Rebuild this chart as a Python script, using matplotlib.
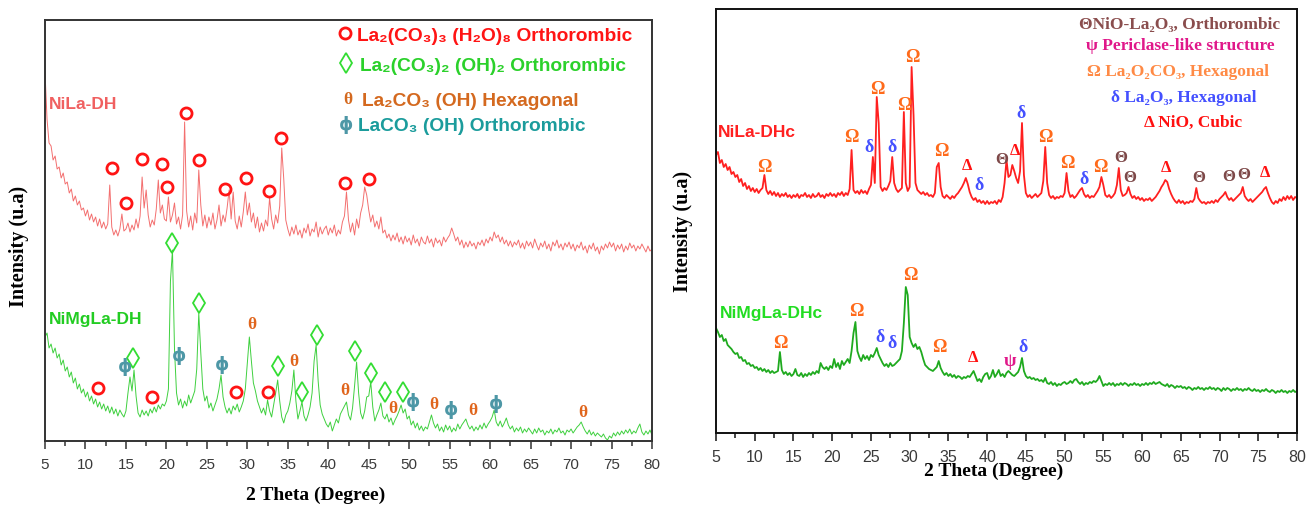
import numpy as np
import matplotlib.pyplot as plt
from matplotlib.ticker import MultipleLocator

SANS = ["Liberation Sans", "DejaVu Sans"]
SERIF = ["Liberation Serif", "DejaVu Serif"]

# diffractometer scan: 5-80 deg 2theta, 0.25 deg step
SCAN_START, SCAN_END, SCAN_STEP = 5.0, 80.0, 0.25

# ---- dried hydroxides (a.u., offset already applied) ----
NILA_DH = [
    369, 322, 298, 295, 281, 285, 272, 274, 263, 268, 257, 259, 248, 252, 240, 245, 236, 240, 231, 233,
    225, 231, 221, 227, 219, 224, 215, 222, 213, 219, 212, 217, 256, 214, 206, 211, 205, 212, 227, 210,
    212, 218, 209, 216, 211, 222, 213, 225, 264, 233, 251, 226, 214, 221, 216, 232, 261, 228, 236, 222,
    220, 244, 219, 226, 238, 217, 224, 212, 226, 319, 230, 214, 225, 211, 228, 218, 271, 236, 215, 226,
    213, 224, 216, 228, 212, 221, 236, 215, 226, 219, 233, 251, 222, 249, 220, 212, 225, 214, 229, 249,
    226, 238, 219, 228, 213, 224, 209, 218, 210, 221, 215, 243, 222, 212, 226, 218, 235, 293, 262, 221,
    212, 205, 214, 207, 216, 206, 211, 203, 213, 208, 217, 205, 212, 209, 219, 204, 214, 207, 212, 215,
    206, 213, 208, 216, 205, 211, 207, 219, 225, 249, 221, 209, 218, 206, 222, 213, 228, 236, 254, 246,
    231, 219, 226, 214, 220, 212, 224, 208, 211, 203, 207, 200, 206, 201, 208, 199, 204, 197, 205, 199,
    203, 196, 206, 198, 202, 195, 204, 199, 197, 205, 198, 202, 194, 203, 198, 201, 195, 204, 199, 203,
    206, 213, 207, 200, 204, 196, 201, 193, 199, 194, 200, 195, 198, 192, 199, 196, 201, 195, 202, 198,
    204, 200, 209, 203, 206, 199, 204, 197, 201, 195, 200, 194, 199, 196, 201, 193, 198, 192, 200, 195,
    199, 193, 202, 196, 191, 198, 194, 200, 192, 197, 190, 199, 195, 201, 193, 197, 191, 198, 194, 199,
    192, 197, 190, 196, 193, 199, 191, 195, 188, 196, 192, 198, 190, 194, 187, 195, 191, 197, 193, 199,
    194, 198, 190, 196, 192, 197, 189, 195, 191, 198, 193, 196, 190, 195, 192, 197, 193, 189, 195, 190,
    192,
]
NIMGLA_DH = [
    104, 108, 93, 97, 88, 93, 83, 87, 76, 81, 70, 74, 64, 69, 58, 63, 52, 57, 48, 52,
    44, 49, 40, 45, 37, 42, 34, 39, 32, 37, 30, 35, 28, 34, 27, 32, 25, 31, 27, 24,
    30, 48, 64, 50, 71, 45, 28, 24, 31, 26, 30, 25, 32, 28, 34, 29, 36, 32, 37, 35,
    40, 52, 160, 191, 92, 48, 36, 42, 33, 40, 35, 46, 38, 44, 50, 72, 128, 88, 52, 40,
    45, 33, 38, 30, 36, 42, 52, 66, 44, 34, 28, 33, 27, 35, 31, 37, 29, 34, 40, 52,
    78, 104, 80, 58, 50, 40, 34, 28, 33, 26, 41, 30, 24, 36, 48, 61, 40, 24, 18, 26,
    30, 38, 50, 71, 40, 22, 30, 39, 25, 20, 26, 34, 48, 80, 96, 60, 36, 27, 22, 17,
    14, 19, 10, 16, 22, 18, 27, 31, 35, 39, 26, 21, 33, 55, 79, 48, 28, 22, 30, 44,
    45, 59, 34, 20, 26, 31, 38, 25, 22, 27, 19, 23, 16, 21, 25, 30, 36, 28, 32, 22,
    25, 16, 20, 13, 18, 11, 15, 10, 14, 12, 19, 26, 18, 13, 17, 10, 14, 9, 16, 11,
    15, 9, 13, 10, 17, 12, 16, 19, 22, 16, 12, 15, 10, 14, 11, 16, 12, 18, 13, 17,
    20, 24, 31, 19, 15, 20, 14, 18, 23, 16, 12, 15, 9, 13, 10, 14, 8, 12, 9, 13,
    10, 7, 12, 8, 13, 9, 11, 6, 10, 8, 12, 7, 11, 9, 13, 8, 10, 6, 11, 9,
    12, 8, 11, 14, 16, 19, 14, 10, 7, 11, 6, 9, 5, 8, 6, 4, 7, 3, 1, 5,
    3, 8, 5, 9, 6, 10, 7, 11, 8, 12, 7, 10, 8, 13, 17, 9, 6, 10, 7, 11,
    6,
]

# ---- calcined samples ----
NILA_DHC = [
    278, 281, 270, 273, 266, 269, 263, 266, 259, 261, 256, 258, 251, 254, 247, 250, 244, 247, 242, 245,
    241, 244, 240, 243, 245, 258, 243, 239, 242, 238, 241, 237, 240, 236, 239, 237, 240, 236, 238, 235,
    238, 236, 239, 235, 238, 237, 240, 236, 238, 235, 239, 236, 237, 240, 236, 238, 235, 239, 237, 240,
    237, 239, 236, 240, 238, 241, 237, 240, 238, 244, 283, 243, 240, 242, 239, 243, 240, 242, 239, 244,
    248, 276, 250, 336, 310, 246, 242, 245, 243, 247, 252, 276, 250, 244, 241, 243, 245, 321, 250, 242,
    246, 366, 318, 250, 243, 241, 239, 241, 238, 240, 237, 238, 236, 240, 266, 270, 246, 237, 235, 238,
    236, 234, 237, 235, 238, 240, 243, 246, 250, 255, 249, 241, 236, 233, 235, 231, 233, 230, 232, 229,
    232, 229, 231, 230, 232, 229, 233, 231, 236, 250, 273, 256, 258, 268, 262, 255, 250, 262, 310, 258,
    240, 236, 238, 235, 237, 239, 236, 238, 240, 252, 286, 250, 238, 235, 237, 234, 236, 235, 237, 236,
    240, 260, 242, 236, 238, 235, 237, 240, 243, 245, 239, 236, 238, 235, 237, 236, 239, 242, 246, 256,
    248, 238, 236, 238, 235, 237, 240, 248, 265, 243, 237, 238, 240, 246, 239, 235, 237, 234, 236, 233,
    235, 232, 234, 233, 235, 232, 234, 236, 239, 242, 246, 249, 253, 251, 244, 239, 235, 232, 230, 233,
    230, 232, 229, 231, 230, 232, 231, 234, 245, 235, 232, 230, 231, 229, 231, 230, 232, 230, 233, 231,
    234, 236, 238, 241, 236, 233, 235, 232, 234, 236, 238, 240, 246, 237, 234, 232, 234, 231, 233, 235,
    237, 239, 241, 244, 246, 240, 235, 231, 229, 232, 230, 234, 232, 236, 233, 237, 234, 237, 233, 236,
    235,
]
NIMGLA_DHC = [
    105, 101, 96, 98, 92, 94, 88, 86, 84, 81, 79, 80, 75, 76, 72, 73, 69, 70, 67, 68,
    65, 66, 63, 65, 62, 64, 61, 63, 60, 62, 60, 61, 62, 81, 63, 59, 61, 58, 60, 57,
    59, 64, 58, 57, 60, 56, 59, 57, 60, 58, 61, 59, 62, 60, 70, 66, 64, 66, 63, 67,
    65, 74, 66, 70, 64, 72, 68, 71, 74, 70, 82, 100, 111, 82, 76, 72, 78, 74, 77, 73,
    78, 76, 80, 85, 78, 74, 70, 67, 69, 66, 70, 67, 68, 70, 72, 74, 82, 110, 146, 138,
    96, 90, 86, 89, 84, 86, 81, 74, 68, 66, 64, 63, 62, 64, 66, 72, 65, 61, 58, 60,
    57, 59, 56, 58, 55, 57, 56, 54, 56, 55, 57, 56, 59, 62, 57, 52, 54, 51, 56, 59,
    60, 54, 57, 63, 56, 59, 63, 57, 59, 56, 60, 62, 60, 58, 57, 59, 61, 66, 75, 62,
    57, 55, 56, 54, 55, 53, 54, 52, 53, 51, 55, 50, 49, 51, 48, 50, 47, 49, 48, 50,
    51, 49, 50, 52, 50, 53, 54, 51, 49, 51, 48, 50, 49, 51, 50, 52, 51, 53, 57, 52,
    47, 49, 48, 50, 48, 50, 47, 49, 48, 50, 48, 50, 49, 47, 49, 48, 50, 48, 49, 47,
    49, 48, 50, 48, 50, 49, 51, 49, 50, 51, 49, 48, 47, 49, 46, 48, 47, 45, 47, 46,
    47, 45, 46, 44, 46, 45, 43, 45, 44, 46, 44, 45, 43, 45, 44, 46, 44, 45, 43, 45,
    44, 42, 45, 43, 45, 44, 42, 44, 43, 45, 43, 44, 42, 44, 43, 45, 43, 42, 44, 42,
    43, 41, 43, 42, 44, 42, 41, 43, 42, 40, 42, 41, 43, 41, 42, 40, 42, 41, 43, 41,
    42,
]

# ---- phase assignments: 2theta of the mark and the level it sits at ----
# dried samples
HYDRATE_NILA_POS = [13.24, 15.01, 17.02, 19.46, 20.04, 22.39, 24.03, 27.24, 29.84, 32.68, 34.16, 42.07, 45.07]
HYDRATE_NILA_LEVEL = [273, 238, 282, 277, 254, 328, 281, 252, 263, 250, 303, 258, 262]
HYDRATE_NIMG_POS = [11.59, 18.18, 28.6, 32.52]
HYDRATE_NIMG_LEVEL = [53, 44, 49, 49]
DIOXYCARB_POS = [15.91, 20.73, 24.03, 33.83, 36.72, 38.57, 43.31, 45.25, 47.01, 49.2]
DIOXYCARB_LEVEL = [83, 198, 138, 75, 49, 106, 90, 68, 49, 49]
HEXA_OH_POS = [30.54, 35.73, 42.07, 47.96, 53.1, 57.92, 71.39]
HEXA_OH_LEVEL = [116, 79, 50, 32, 36, 30, 28]
ORTHO_OH_POS = [14.89, 21.6, 26.83, 50.51, 55.13, 60.69]
ORTHO_OH_LEVEL = [74, 85, 76, 39, 31, 37]

# calcined samples
OXYCARB_NILA_POS = [11.23, 22.47, 25.82, 29.31, 30.39, 34.13, 47.56, 50.35, 54.57]
OXYCARB_NILA_LEVEL = [265, 296, 344, 328, 375, 281, 295, 269, 265]
LA2O3_NILA_POS = [24.79, 27.76, 38.99, 44.37, 52.5]
LA2O3_NILA_LEVEL = [286, 286, 248, 320, 254]
NIO_NILA_POS = [37.36, 43.55, 63.09, 75.87]
NIO_NILA_LEVEL = [267, 282, 265, 260]
NILAO_NILA_POS = [41.95, 57.28, 58.44, 67.26, 71.13, 73.07]
NILAO_NILA_LEVEL = [273, 275, 255, 255, 256, 258]
OXYCARB_NIMG_POS = [13.3, 23.07, 30.04, 33.79]
OXYCARB_NIMG_LEVEL = [89, 121, 157, 85]
LA2O3_NIMG_POS = [26.17, 27.76, 44.67]
LA2O3_NIMG_LEVEL = [95, 90, 85]
NIO_NIMG_POS = [38.21]
NIO_NIMG_LEVEL = [75]
PERICLASE_POS = [42.95]
PERICLASE_LEVEL = [71]

FIG_W, FIG_H = 1306, 509


def fig_xy(px, py):
    return px / FIG_W, 1 - py / FIG_H


def style_axis(ax, ymax, spine_color, tick_size):
    ax.set_xlim(SCAN_START, SCAN_END)
    ax.set_ylim(0, ymax)
    ax.set_yticks([])
    ax.xaxis.set_major_locator(MultipleLocator(5))
    ax.xaxis.set_minor_locator(MultipleLocator(2.5))
    ax.tick_params(axis="x", which="major", direction="out", length=6, width=1.1,
                   color=spine_color, pad=6, labelsize=tick_size, labelcolor="#3a3a3a")
    ax.tick_params(axis="x", which="minor", direction="out", length=3.5, width=1.1, color=spine_color)
    for lab in ax.get_xticklabels():
        lab.set_family(SANS)
    for side in ax.spines.values():
        side.set_color(spine_color)
        side.set_linewidth(1.4)


def mark_text(ax, pos, level, symbol, color, size, family=SERIF):
    for x, y in zip(pos, level):
        ax.text(x, y, symbol, color=color, fontsize=size, fontweight="bold",
                family=family, ha="center", va="center", clip_on=False)


def mark_symbol(ax, pos, level, marker, color, size, edge):
    ax.plot(pos, level, ls="none", marker=marker, ms=size, mfc="none",
            mec=color, mew=edge, clip_on=False)


two_theta = np.round(np.arange(SCAN_START, SCAN_END + SCAN_STEP / 2, SCAN_STEP), 2)

fig = plt.figure(figsize=(FIG_W / 100, FIG_H / 100), dpi=100)

# ----------------------------------------------------------- dried
ax1 = fig.add_axes([45 / FIG_W, 68 / FIG_H, 607 / FIG_W, 421 / FIG_H])
ax1.plot(two_theta, NILA_DH, color="#f36f6f", lw=0.7)
ax1.plot(two_theta, NIMGLA_DH, color="#3fd03f", lw=0.7)
style_axis(ax1, 421, "#333333", 11)

red, green, brown, teal = "#ff1414", "#2bd12b", "#d4691f", "#1b9c9c"
ring_ms, ring_mew = 8, 2.0
mark_symbol(ax1, HYDRATE_NILA_POS, HYDRATE_NILA_LEVEL, "o", red, ring_ms, ring_mew)
mark_symbol(ax1, HYDRATE_NIMG_POS, HYDRATE_NIMG_LEVEL, "o", red, ring_ms, ring_mew)
mark_symbol(ax1, DIOXYCARB_POS, DIOXYCARB_LEVEL, "d", "#33dd33", 10.5, 1.3)
mark_text(ax1, HEXA_OH_POS, HEXA_OH_LEVEL, "θ", "#e0651c", 12.5)
mark_text(ax1, ORTHO_OH_POS, ORTHO_OH_LEVEL, "ϕ", "#4d97a6", 13, family=["DejaVu Sans"])

ax1.text(0.006, 0.8, "NiLa-DH", transform=ax1.transAxes, color="#f06060",
         fontsize=12.5, fontweight="bold", family=SANS, va="center")
ax1.text(0.006, 0.288, "NiMgLa-DH", transform=ax1.transAxes, color="#22cc22",
         fontsize=12.5, fontweight="bold", family=SANS, va="center")

legend_dh = [
    ("La₂(CO₃)₃ (H₂O)₈ Orthorombic", red, 41),
    ("La₂(CO₃)₂ (OH)₂ Orthorombic", green, 71),
    ("La₂CO₃ (OH) Hexagonal", brown, 106),
    ("LaCO₃ (OH) Orthorombic", teal, 131),
]
fig.lines.append(plt.Line2D(*zip(fig_xy(345, 33)), transform=fig.transFigure, ls="none", marker="o",
                            ms=ring_ms, mfc="none", mec=red, mew=ring_mew))
fig.lines.append(plt.Line2D(*zip(fig_xy(346, 63)), transform=fig.transFigure, ls="none", marker="d",
                            ms=10.5, mfc="none", mec="#33dd33", mew=1.3))
fig.text(*fig_xy(348, 100), "θ", color=brown, fontsize=12.5, fontweight="bold",
         family=SERIF, ha="center", va="center")
fig.text(*fig_xy(346, 125), "ϕ", color="#4d97a6", fontsize=13, fontweight="bold",
         family=["DejaVu Sans"], ha="center", va="center")
for (label, color, base), x0 in zip(legend_dh, [357, 360, 362, 358]):
    fig.text(*fig_xy(x0, base), label, color=color, fontsize=13.8, fontweight="bold",
             family=SANS, ha="left", va="baseline")

fig.text(*fig_xy(316, 495), "2 Theta (Degree)", fontsize=14, fontweight="bold",
         family=SERIF, ha="center", va="center")
fig.text(*fig_xy(19, 246), "Intensity (u.a)", fontsize=14.5, fontweight="bold",
         family=SERIF, ha="center", va="center", rotation=90)

# ----------------------------------------------------------- calcined
ax2 = fig.add_axes([716 / FIG_W, 76 / FIG_H, 581 / FIG_W, 424 / FIG_H])
ax2.plot(two_theta, NILA_DHC, color="#ff2020", lw=1.3)
ax2.plot(two_theta, NIMGLA_DHC, color="#1faa1f", lw=1.3)
style_axis(ax2, 424, "#111111", 11.5)

omega_c, delta_c, nio_c, nilao_c, psi_c = "#ff6a1a", "#4450ff", "#ff1010", "#7d4848", "#e0188a"
mark_text(ax2, OXYCARB_NILA_POS, OXYCARB_NILA_LEVEL, "Ω", omega_c, 13)
mark_text(ax2, LA2O3_NILA_POS, LA2O3_NILA_LEVEL, "δ", delta_c, 13)
mark_text(ax2, NIO_NILA_POS, NIO_NILA_LEVEL, "Δ", nio_c, 12)
mark_text(ax2, NILAO_NILA_POS, NILAO_NILA_LEVEL, "Θ", nilao_c, 12)
mark_text(ax2, OXYCARB_NIMG_POS, OXYCARB_NIMG_LEVEL, "Ω", omega_c, 13)
mark_text(ax2, LA2O3_NIMG_POS, LA2O3_NIMG_LEVEL, "δ", delta_c, 13)
mark_text(ax2, NIO_NIMG_POS, NIO_NIMG_LEVEL, "Δ", nio_c, 12)
mark_text(ax2, PERICLASE_POS, PERICLASE_LEVEL, "ψ", psi_c, 13)

ax2.text(0.004, 0.708, "NiLa-DHc", transform=ax2.transAxes, color="#ff2020",
         fontsize=12.5, fontweight="bold", family=SANS, va="center")
ax2.text(0.006, 0.283, "NiMgLa-DHc", transform=ax2.transAxes, color="#22dd22",
         fontsize=12.5, fontweight="bold", family=SANS, va="center")

legend_dhc = [
    ("ΘNiO-La₂O₃, Orthorombic", "#8a4d4d", 1180, 29),
    ("ψ Periclase-like structure", psi_c, 1180, 50),
    ("Ω La₂O₂CO₃, Hexagonal", "#ff8a45", 1178, 76),
    ("δ La₂O₃, Hexagonal", delta_c, 1184, 102),
    ("Δ NiO, Cubic", nio_c, 1193, 127),
]
for label, color, xc, base in legend_dhc:
    fig.text(*fig_xy(xc, base), label, color=color, fontsize=12.5, fontweight="bold",
             family=SERIF, ha="center", va="baseline")

fig.text(*fig_xy(994, 471), "2 Theta (Degree)", fontsize=14, fontweight="bold",
         family=SERIF, ha="center", va="center")
fig.text(*fig_xy(683, 231), "Intensity (u.a)", fontsize=14.5, fontweight="bold",
         family=SERIF, ha="center", va="center", rotation=90)

fig.savefig("out.png", dpi=100, facecolor="white")
